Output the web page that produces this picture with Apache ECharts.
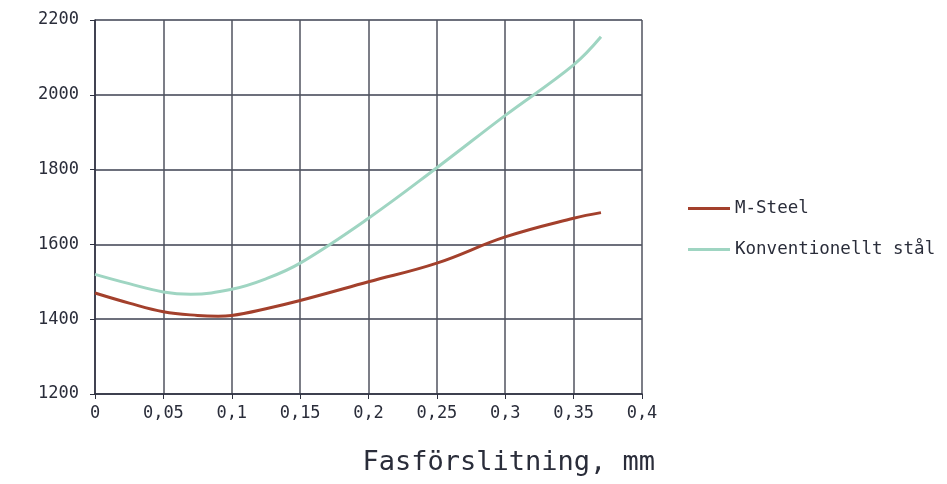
<!DOCTYPE html>
<html><head><meta charset="utf-8">
<script src="https://cdn.jsdelivr.net/npm/echarts@6/dist/echarts.min.js"></script>
<style>html,body{margin:0;padding:0;background:#fff}#c{width:947px;height:484px}</style>
</head><body><div id="c"></div>
<script>
var xMSteel = [0, 0.025, 0.05, 0.075, 0.09, 0.1, 0.125, 0.15, 0.2, 0.25, 0.3, 0.35, 0.37];
var yMSteel = [1470, 1443, 1420, 1410, 1408, 1410, 1428, 1450, 1500, 1550, 1620, 1670, 1685];
var xConv = [0, 0.025, 0.05, 0.07, 0.1, 0.125, 0.15, 0.2, 0.25, 0.3, 0.35, 0.37];
var yConv = [1520, 1495, 1473, 1467, 1480, 1508, 1550, 1670, 1805, 1945, 2080, 2155];
var seriesNames = ['M-Steel', 'Konventionellt stål'];
var xTitle = 'Fasförslitning, mm';
var font = 'DejaVu Sans Mono';
function pairs(xs, ys){ return xs.map(function(x,i){return [x, ys[i]];}); }
var chart = echarts.init(document.getElementById('c'));
chart.setOption({
  animation: false,
  grid: {left: 95, top: 20, width: 547, height: 374},
  legend: {
    orient: 'vertical', left: 683, top: 193, itemWidth: 42, itemHeight: 3, itemGap: 20, itemTextGap: 6,
    icon: 'rect',
    textStyle: {fontFamily: font, fontSize: 17.5, color: '#2a2d3a', lineHeight: 21},
    data: seriesNames
  },
  xAxis: {
    type: 'value', min: 0, max: 0.4, interval: 0.05,
    axisLine: {lineStyle: {color: '#2e3140', width: 1.5}},
    axisTick: {show: true, length: 5, lineStyle: {color: '#2e3140'}},
    splitLine: {show: true, lineStyle: {color: '#50535f', width: 1.5}},
    axisLabel: {fontFamily: font, fontSize: 17, color: '#2a2d3a', margin: 11,
      formatter: function(v){ return String(+v.toFixed(2)).replace('.', ','); }}
  },
  yAxis: {
    type: 'value', min: 1200, max: 2200, interval: 200,
    axisLine: {show: true, lineStyle: {color: '#2e3140', width: 1.5}},
    axisTick: {show: true, length: 5, lineStyle: {color: '#2e3140'}},
    splitLine: {show: true, lineStyle: {color: '#3d4050', width: 1.5}},
    axisLabel: {fontFamily: font, fontSize: 17, color: '#2a2d3a', margin: 16,
      formatter: function(v){ return String(v); }}
  },
  graphic: [{type: 'text', right: 292, top: 449,
    style: {text: xTitle, font: '27px "DejaVu Sans Mono"', fill: '#2a2d3a'}}],
  series: [
    {name: seriesNames[0], type: 'line', smooth: 0.4, symbol: 'none', data: pairs(xMSteel, yMSteel),
     lineStyle: {color: '#a3402c', width: 3}, itemStyle: {color: '#a3402c'}},
    {name: seriesNames[1], type: 'line', smooth: 0.4, symbol: 'none', data: pairs(xConv, yConv),
     lineStyle: {color: '#9fd5c2', width: 3}, itemStyle: {color: '#9fd5c2'}}
  ]
});
</script></body></html>
